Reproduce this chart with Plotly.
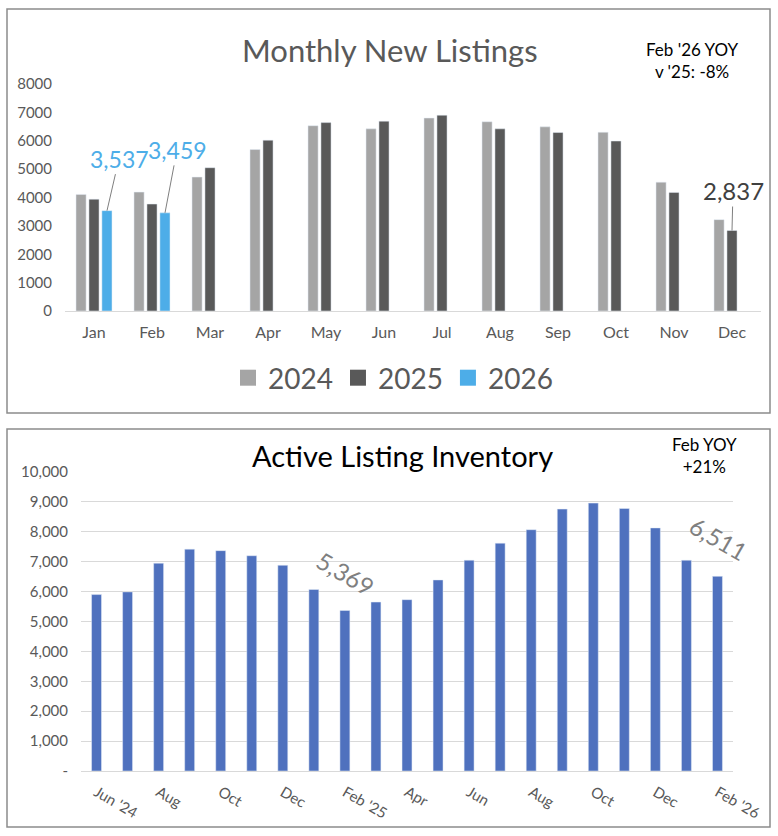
import plotly.graph_objects as go

W, H = 778, 836

# ---- Monthly New Listings ----
months = ["Jan", "Feb", "Mar", "Apr", "May", "Jun",
          "Jul", "Aug", "Sep", "Oct", "Nov", "Dec"]
listings_2024 = [4110, 4190, 4720, 5690, 6530, 6420, 6800, 6670, 6490, 6300, 4540, 3220]
listings_2025 = [3940, 3770, 5050, 6020, 6640, 6690, 6900, 6420, 6290, 5990, 4180, 2837]
listings_2026 = [3537, 3459, None, None, None, None, None, None, None, None, None, None]
new_ticks = [0, 1000, 2000, 3000, 4000, 5000, 6000, 7000, 8000]

# ---- Active Listing Inventory ----
inv_months = ["Jun '24", "Jul '24", "Aug '24", "Sep '24", "Oct '24", "Nov '24", "Dec '24",
              "Jan '25", "Feb '25", "Mar '25", "Apr '25", "May '25", "Jun '25", "Jul '25",
              "Aug '25", "Sep '25", "Oct '25", "Nov '25", "Dec '25", "Jan '26", "Feb '26"]
inventory = [5900, 5990, 6950, 7420, 7370, 7200, 6880, 6070, 5369, 5650, 5730,
             6390, 7050, 7620, 8070, 8760, 8960, 8780, 8130, 7050, 6511]
inv_tickvals = inv_months[::2]
inv_ticktext = ["Jun '24", "Aug", "Oct", "Dec", "Feb '25", "Apr", "Jun",
                "Aug", "Oct", "Dec", "Feb '26"]
inv_ticks = [0, 1000, 2000, 3000, 4000, 5000, 6000, 7000, 8000, 9000, 10000]
inv_ticklabels = ["-"] + [f"{v:,}" for v in inv_ticks[1:]]

C24, C25, C26 = "#A5A5A5", "#595959", "#4DADE8"
BLUE = "#4F71BE"
GREY_TXT = "#595959"
FONT = "Lato, Open Sans, sans-serif"


def px_x(p):
    return p / W


def px_y(p):
    return 1 - p / H


fig = go.Figure()

for name, vals, col in [("2024", listings_2024, C24),
                        ("2025", listings_2025, C25),
                        ("2026", listings_2026, C26)]:
    fig.add_trace(go.Bar(x=months, y=vals, name=name, marker_color=col,
                         showlegend=False, xaxis="x", yaxis="y"))
    # legend swatch only
    fig.add_trace(go.Scatter(x=[None], y=[None], mode="markers", name=name,
                             marker=dict(symbol="square", size=16, color=col),
                             xaxis="x", yaxis="y"))

fig.add_trace(go.Bar(x=inv_months, y=inventory, marker_color=BLUE, width=0.32,
                     showlegend=False, xaxis="x2", yaxis="y2"))

fig.update_layout(
    width=W, height=H,
    margin=dict(l=0, r=0, t=0, b=0, autoexpand=False),
    paper_bgcolor="white", plot_bgcolor="white",
    font=dict(family=FONT, color=GREY_TXT),
    barmode="group", bargap=0.33, bargroupgap=0.22,
    # fixed category ranges so the callouts don't stretch the axes
    xaxis=dict(domain=[px_x(65), px_x(761)], anchor="y", range=[-0.5, len(months) - 0.5],
               showgrid=False, showline=True, linecolor="#D9D9D9",
               ticks="", tickfont=dict(size=16, color=GREY_TXT), ticklabelstandoff=7),
    yaxis=dict(domain=[px_y(311), px_y(84)], anchor="x", range=[0, 8000],
               tickvals=new_ticks, showgrid=False, zeroline=False,
               tickfont=dict(size=15, color=GREY_TXT), ticklabelstandoff=12),
    xaxis2=dict(domain=[px_x(81), px_x(733)], anchor="y2",
                range=[-0.5, len(inv_months) - 0.5],
                showgrid=False, showline=True, linecolor="#D9D9D9",
                ticks="", tickangle=30, tickvals=inv_tickvals, ticktext=inv_ticktext,
                tickfont=dict(size=15, color=GREY_TXT), ticklabelstandoff=6),
    yaxis2=dict(domain=[px_y(771), px_y(472)], anchor="x2", range=[0, 10000],
                tickvals=inv_ticks, ticktext=inv_ticklabels,
                showgrid=True, gridcolor="#D9D9D9", zeroline=False,
                tickfont=dict(size=15, color=GREY_TXT), ticklabelstandoff=12),
    legend=dict(orientation="h", x=px_x(393), xanchor="center", y=px_y(378), yanchor="middle",
                font=dict(size=28, color=GREY_TXT), itemwidth=30,
                bgcolor="rgba(0,0,0,0)"),
)

# panel frames
for y0, y1 in [(9, 413), (429, 827)]:
    fig.add_shape(type="rect", xref="paper", yref="paper",
                  x0=px_x(7), x1=px_x(770), y0=px_y(y1), y1=px_y(y0),
                  line=dict(color="#8C8C8C", width=1.5))

annots = [
    dict(text="Monthly New Listings", x=px_x(390), y=px_y(50),
         font=dict(size=31, color=GREY_TXT)),
    dict(text="Feb '26 YOY<br>v '25: -8%", x=px_x(692), y=px_y(60),
         font=dict(size=17, color="black")),
    dict(text="Active Listing Inventory", x=px_x(403), y=px_y(456),
         font=dict(size=29, color="black")),
    dict(text="Feb YOY<br>+21%", x=px_x(704), y=px_y(456),
         font=dict(size=17, color="black")),
]
for a in annots:
    fig.add_annotation(xref="paper", yref="paper", showarrow=False,
                       xanchor="center", yanchor="middle", **a)

# callouts on the top chart
fig.add_annotation(x="Jan", y=listings_2026[0], xref="x", yref="y", xshift=13,
                   text=f"{listings_2026[0]:,}", showarrow=True, arrowhead=0,
                   arrowcolor="#7F7F7F", arrowwidth=1, ax=12, ay=-52,
                   font=dict(size=23, color=C26))
fig.add_annotation(x="Feb", y=listings_2026[1], xref="x", yref="y", xshift=13,
                   text=f"{listings_2026[1]:,}", showarrow=True, arrowhead=0,
                   arrowcolor="#7F7F7F", arrowwidth=1, ax=12, ay=-63,
                   font=dict(size=23, color=C26))
fig.add_annotation(x="Dec", y=listings_2025[11], xref="x", yref="y", xshift=0,
                   text=f"{listings_2025[11]:,}", showarrow=True, arrowhead=0,
                   arrowcolor="#7F7F7F", arrowwidth=1, ax=1, ay=-40,
                   font=dict(size=24, color="#404040"))

# rotated value labels on inventory chart
for i, yshift in [(8, 37), (20, 38)]:
    fig.add_annotation(x=inv_months[i], y=inventory[i], xref="x2", yref="y2",
                       text=f"{inventory[i]:,}", showarrow=False, textangle=30,
                       xanchor="center", yanchor="middle", xshift=1,
                       yshift=yshift, font=dict(size=24, color="#7F7F7F"))

# drop the default page margin so the figure fills the window exactly
fig.write_html("out.html", config={"displayModeBar": False},
               post_script="document.body.style.margin='0';")
